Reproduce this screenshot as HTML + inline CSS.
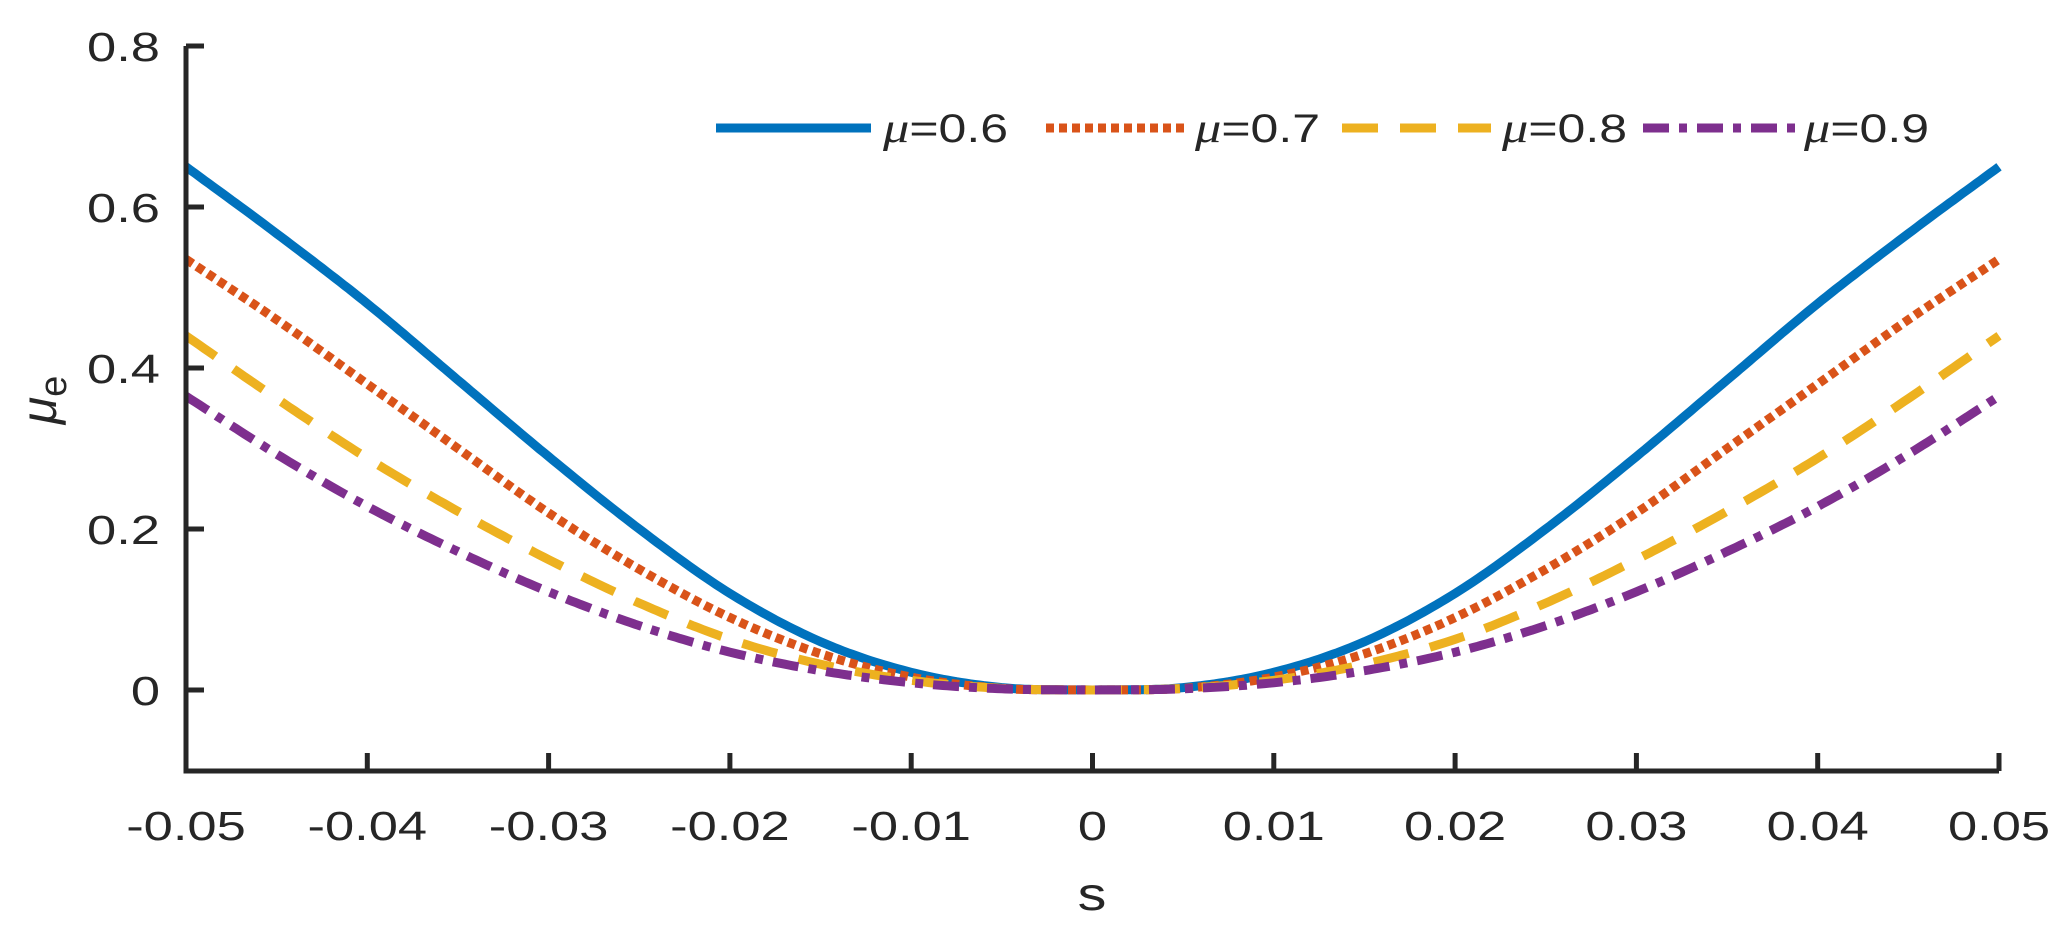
<!DOCTYPE html>
<html><head><meta charset="utf-8"><style>
html,body{margin:0;padding:0;background:#fff;}
svg{display:block;}
text{font-family:"Liberation Sans",sans-serif;fill:#262626;}
</style></head><body>
<svg id="s" width="2069" height="928" viewBox="0 0 2069 928" xmlns="http://www.w3.org/2000/svg">
<g id="curves"></g>
<g stroke="#262626" stroke-width="5" fill="none">
<path d="M186,46 V771 H1999"/>
</g>
<g id="ticks" stroke="#262626" stroke-width="5"></g>
<g id="labels" font-size="41" text-anchor="middle"></g>
<text transform="translate(1092,910) scale(1.25,1)" font-size="46" text-anchor="middle">s</text>
<g transform="translate(56,400) rotate(-90)">
<text x="0" y="0" font-size="50" font-family="Liberation Serif" font-style="italic" text-anchor="middle">μ<tspan font-family="Liberation Sans" font-style="normal" font-size="38" dy="10">e</tspan></text>
</g>
<g id="legend"></g>
</svg>
<script>
const X0=186,X1=1999,Y0=690,DY=805;
const px=s=>X0+(s+0.05)/0.1*(X1-X0);
const py=v=>Y0-v*DY;
const NS="http://www.w3.org/2000/svg";
function el(p,t,a,txt){const e=document.createElementNS(NS,t);for(const k in a)e.setAttribute(k,a[k]);if(txt!=null)e.textContent=txt;p.appendChild(e);return e;}
const ticks=document.getElementById('ticks'),labels=document.getElementById('labels');
for(let i=0;i<=10;i++){const s=-0.05+i*0.01,x=px(s);
 el(ticks,'line',{x1:x,y1:771,x2:x,y2:753});
 let t=s.toFixed(2); if(Math.abs(s)<1e-9)t='0';
 el(labels,'text',{transform:`translate(${x},840) scale(1.28,1)`},t);}
[0,0.2,0.4,0.6,0.8].forEach(v=>{const y=py(v);el(ticks,'line',{x1:186,y1:y,x2:204,y2:y});
 el(labels,'text',{transform:`translate(160,${y+15}) scale(1.28,1)`,'text-anchor':'end'},v===0?'0':v.toFixed(1));});
const xs=[0,0.005,0.01,0.015,0.02,0.025,0.03,0.035,0.04,0.045,0.05];
const data=[
 {c:'#0072BD',d:'',v:[0,0.003,0.022,0.06,0.12,0.2,0.29,0.385,0.48,0.567,0.65]},
 {c:'#D95319',d:'8 5',v:[0,0.002,0.016,0.045,0.09,0.15,0.22,0.3,0.38,0.46,0.535]},
 {c:'#EDB120',d:'36 22',v:[0,0.002,0.012,0.032,0.063,0.108,0.162,0.222,0.288,0.362,0.44]},
 {c:'#7E2F8E',d:'26 10 8 10',v:[0,0.0015,0.009,0.024,0.047,0.08,0.122,0.172,0.228,0.293,0.365]}];
function interp(xa,ya,x){
 let i=Math.min(Math.floor(x/0.005),xa.length-2);const t=(x-xa[i])/0.005;
 const p0=ya[Math.max(i-1,0)],p1=ya[i],p2=ya[i+1],p3=ya[Math.min(i+2,ya.length-1)]+(i+2>=ya.length?(ya[i+1]-ya[i]):0);
 return 0.5*((2*p1)+(-p0+p2)*t+(2*p0-5*p1+4*p2-p3)*t*t+(-p0+3*p1-3*p2+p3)*t*t*t);}
const cg=document.getElementById('curves');
data.forEach(o=>{let pts=[];for(let k=0;k<=400;k++){const s=-0.05+k*0.1/400;const v=Math.max(0,interp(xs,o.v,Math.abs(s)));pts.push(px(s).toFixed(1)+','+py(v).toFixed(1));}
 const a={points:pts.join(' '),fill:'none',stroke:o.c,'stroke-width':9};if(o.d)a['stroke-dasharray']=o.d;el(cg,'polyline',a);});
const lg=document.getElementById('legend');
[[716,871,883,'0.6'],[1046,1188,1195,'0.7'],[1342,1491,1502,'0.8'],[1643,1795,1804,'0.9']].forEach((L,i)=>{
 const a={x1:L[0],y1:128,x2:L[1],y2:128,stroke:data[i].c,'stroke-width':9};if(data[i].d)a['stroke-dasharray']=data[i].d;el(lg,'line',a);
 const t=el(lg,'text',{transform:`translate(${L[2]},142) scale(1.25,1)`,'font-size':40});
 el(t,'tspan',{'font-family':'Liberation Serif','font-style':'italic','font-size':42},'μ');
 el(t,'tspan',{},'='+L[3]);});
</script>
</body></html>
